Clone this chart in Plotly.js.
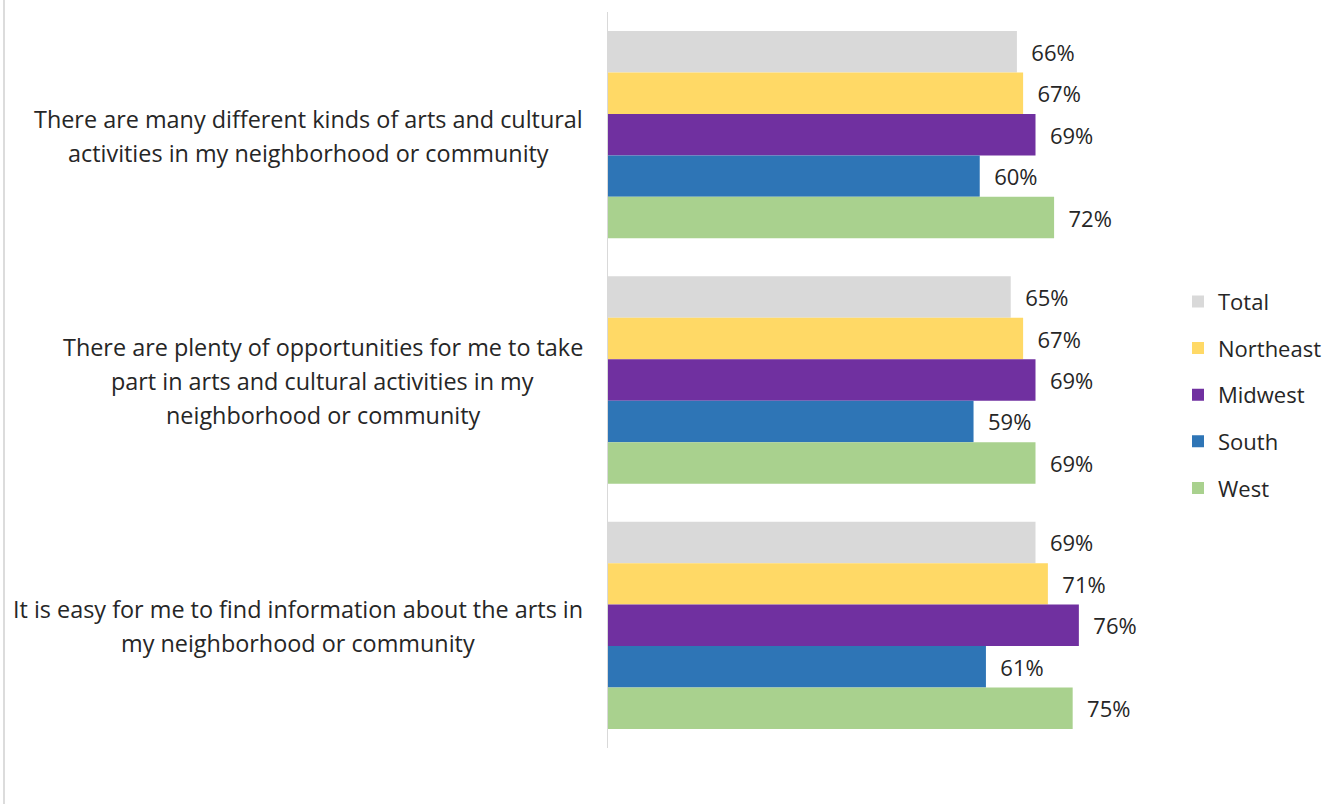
<!DOCTYPE html>
<html>
<head>
<meta charset="utf-8">
<script src="https://cdn.plot.ly/plotly-3.0.1.min.js"></script>
<style>html,body{margin:0;padding:0;background:#fff;}#chart{width:1335px;height:804px;}</style>
</head>
<body>
<div id="chart"></div>
<script>
const categories = [
  "There are many different kinds of arts and cultural<br>activities in my neighborhood or community",
  "There are plenty of opportunities for me to take<br>part in arts and cultural activities in my<br>neighborhood or community",
  "It is easy for me to find information about the arts in<br>my neighborhood or community"
];
const seriesNames = ["Total", "Northeast", "Midwest", "South", "West"];
const total     = [66, 65, 69];
const northeast = [67, 67, 71];
const midwest   = [69, 69, 76];
const south     = [60, 59, 61];
const west      = [72, 69, 75];
const seriesValues = [total, northeast, midwest, south, west];
const colors = ["#d9d9d9", "#ffd966", "#7030a0", "#2e75b6", "#a9d18e"];

const FAMILY = "'Open Sans'";
const FONT = "'Open Sans', sans-serif";
const TXT = "#262626";
const LABEL_SIZE = 23.4;
const LINE_STEP = 34;

const traces = seriesNames.map((name, i) => ({
  type: "bar",
  orientation: "h",
  name: name,
  legendgroup: name,
  y: categories,
  x: seriesValues[i],
  marker: {color: colors[i]},
  text: seriesValues[i].map(v => "\u00a0\u00a0" + v + "%"),
  texttemplate: "%{text}",
  textposition: "outside",
  constraintext: "none",
  cliponaxis: false,
  textfont: {family: FONT, size: 22, color: TXT},
  hoverinfo: "skip"
}));

// measure text widths to centre lines within a right-aligned block
const cv = document.createElement("canvas").getContext("2d");
cv.font = LABEL_SIZE + "px " + FAMILY;
const RIGHT_EDGE_SHIFT = -25;
const annotations = [];
categories.forEach(c => {
  const lines = c.split("<br>");
  const widths = lines.map(l => cv.measureText(l).width);
  const maxW = Math.max(...widths);
  const n = lines.length;
  lines.forEach((l, i) => {
    annotations.push({
      xref: "paper", yref: "y",
      x: 0, y: c,
      xanchor: "center", yanchor: "middle",
      xshift: RIGHT_EDGE_SHIFT - maxW / 2,
      yshift: -(i - (n - 1) / 2) * LINE_STEP - 1,
      showarrow: false,
      text: l,
      font: {family: FONT, size: LABEL_SIZE, color: TXT}
    });
  });
});

const plotW = 1335 - 608 - 157;
const plotH = 804 - 12 - 56;

const layout = {
  width: 1335, height: 804,
  margin: {l: 608, r: 157, t: 12, b: 56, autoexpand: false},
  paper_bgcolor: "#fff", plot_bgcolor: "#fff",
  barmode: "group",
  bargap: 0.155,
  bargroupgap: 0,
  showlegend: true,
  legend: {
    x: 1.0, xanchor: "left", y: 0.48, yanchor: "middle",
    font: {family: FONT, size: 22, color: TXT},
    itemwidth: 30, tracegroupgap: 15, traceorder: "grouped"
  },
  xaxis: {
    range: [0, 92], showgrid: false, zeroline: false, showticklabels: false,
    showline: false, ticks: "", fixedrange: true
  },
  yaxis: {
    autorange: "reversed", showticklabels: false, ticks: "",
    showline: true, linecolor: "#d9d9d9", linewidth: 1, showgrid: false, zeroline: false
  },
  annotations: annotations,
  shapes: [{
    type: "line", xref: "paper", yref: "paper",
    x0: -604 / plotW, x1: -604 / plotW,
    y0: -56 / plotH, y1: (plotH + 12) / plotH,
    line: {color: "#d0d0d0", width: 1.5}
  }]
};

Plotly.newPlot("chart", traces, layout, {displayModeBar: false, staticPlot: true});
</script>
</body>
</html>
